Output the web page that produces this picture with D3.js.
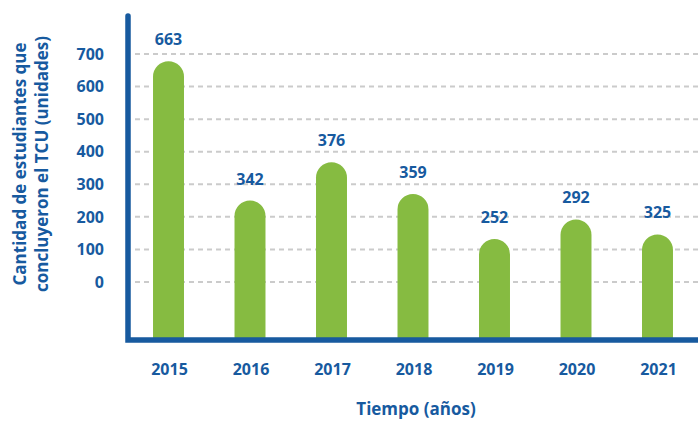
<!DOCTYPE html>
<html>
<head>
<meta charset="utf-8">
<script src="https://cdn.jsdelivr.net/npm/d3@7"></script>
<style>
  body { margin: 0; background: #fff; }
  svg { display: block; font-family: "Open Sans", "DejaVu Sans", sans-serif; font-weight: 700; }
</style>
</head>
<body>
<div id="chart"></div>
<script>
// ---- Data
const years = ['2015', '2016', '2017', '2018', '2019', '2020', '2021'];
// printed value above each bar
const printed = [663, 342, 376, 359, 252, 292, 325];
// bar top as drawn in the source, read on the axis scale
const barTops = [678, 250, 368, 270, 132, 192, 146];
const yTicks = [0, 100, 200, 300, 400, 500, 600, 700];

const W = 698, H = 422;
const margins = { top: 54, left: 128, right: 0, bottom: 82 };
const blue = '#175a9f';
const green = '#86bb41';

const svg = d3.select('#chart').append('svg')
    .attr('width', W)
    .attr('height', H);

// ---- Scales
const mapX = d3.scaleBand().domain(years)
    .range([margins.left, W - margins.right])
    .paddingInner(0.62).paddingOuter(0.307);
const mapY = d3.scaleLinear().domain([0, 700]).range([282, margins.top]);
const baseY = H - margins.bottom - 2;

// ---- Grid lines
svg.append('g').selectAll('line')
    .data(yTicks).join('line')
    .attr('x1', margins.left + 7).attr('x2', W)
    .attr('y1', d => mapY(d)).attr('y2', d => mapY(d))
    .attr('stroke', '#cbcbcb')
    .attr('stroke-width', 2)
    .attr('stroke-dasharray', '5,4');

// ---- Y tick labels
svg.append('g').selectAll('text')
    .data(yTicks).join('text')
    .attr('x', 104)
    .attr('y', d => mapY(d))
    .attr('dy', '0.36em')
    .attr('text-anchor', 'end')
    .attr('fill', blue)
    .style('font-size', '16px')
    .text(d => d);

// ---- Bars (rounded tops)
const bw = mapX.bandwidth();
svg.append('g').selectAll('path')
    .data(years).join('path')
    .attr('fill', green)
    .attr('d', (d, i) => {
        const x0 = mapX(d), r = bw / 2, top = mapY(barTops[i]);
        return `M${x0},${baseY} V${top + r} A${r},${r} 0 0 1 ${x0 + bw},${top + r} V${baseY} Z`;
    });

// ---- Value labels
svg.append('g').selectAll('text')
    .data(years).join('text')
    .attr('x', d => mapX(d) + bw / 2)
    .attr('y', (d, i) => mapY(barTops[i]) - 16)
    .attr('text-anchor', 'middle')
    .attr('fill', blue)
    .style('font-size', '16px')
    .text((d, i) => printed[i]);

// ---- Axes lines
svg.append('path')
    .attr('d', `M${margins.left},16 V${baseY + 2} H${W}`)
    .attr('fill', 'none')
    .attr('stroke', blue)
    .attr('stroke-width', 5.5)
    .attr('stroke-linecap', 'round')
    .attr('stroke-linejoin', 'miter');

// ---- X tick labels
svg.append('g').selectAll('text')
    .data(years).join('text')
    .attr('x', d => mapX(d) + bw / 2 + 1)
    .attr('y', 375)
    .attr('text-anchor', 'middle')
    .attr('fill', blue)
    .style('font-size', '16px')
    .text(d => d);

// ---- Axis titles
svg.append('text')
    .attr('x', 416).attr('y', 415)
    .attr('text-anchor', 'middle')
    .attr('fill', blue)
    .style('font-size', '17px')
    .text('Tiempo (años)');

const yTitle = svg.append('text')
    .attr('transform', 'translate(26,164) rotate(-90)')
    .attr('text-anchor', 'middle')
    .attr('fill', blue)
    .style('font-size', '17px');
yTitle.append('tspan').attr('x', 0).attr('y', 0).text('Cantidad de estudiantes que');
yTitle.append('tspan').attr('x', 0).attr('y', 22).text('concluyeron el TCU (unidades)');
</script>
</body>
</html>
